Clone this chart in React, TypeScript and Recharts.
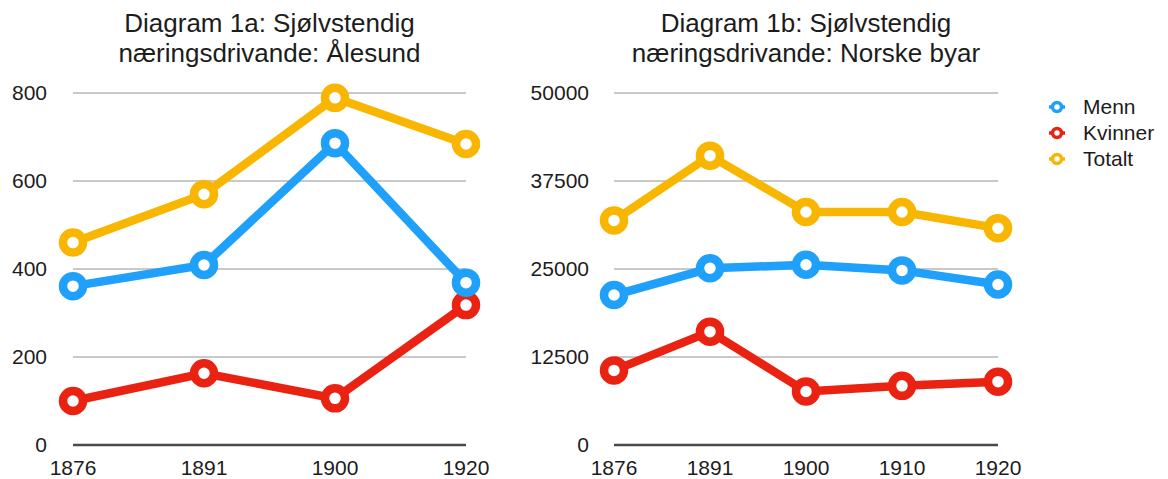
import { LineChart, Line, XAxis, YAxis, CartesianGrid } from 'recharts'

const years1 = ['1876', '1891', '1900', '1920']
const menn1 = [361, 409, 686, 369]
const kvinner1 = [100, 163, 106, 318]
const totalt1 = [460, 570, 789, 684]
const ticks1 = [0, 200, 400, 600, 800]

const years2 = ['1876', '1891', '1900', '1910', '1920']
const menn2 = [21300, 25100, 25600, 24800, 22800]
const kvinner2 = [10600, 16100, 7600, 8400, 9000]
const totalt2 = [31900, 41100, 33100, 33100, 30800]
const ticks2 = [0, 12500, 25000, 37500, 50000]

const FONT = '"Liberation Sans", Arial, Helvetica, sans-serif'
const TEXT = '#1c1c1c'

const SERIES = [
  { key: 'Kvinner', color: '#ea2212' },
  { key: 'Menn', color: '#1ea0fb' },
  { key: 'Totalt', color: '#f8b600' },
]
const LEGEND = ['Menn', 'Kvinner', 'Totalt']

function build(years: string[], menn: number[], kvinner: number[], totalt: number[]) {
  return years.map((year, i) => ({ year, Menn: menn[i], Kvinner: kvinner[i], Totalt: totalt[i] }))
}

const data1 = build(years1, menn1, kvinner1, totalt1)
const data2 = build(years2, menn2, kvinner2, totalt2)

interface PanelProps {
  data: ReturnType<typeof build>
  ticks: number[]
  yWidth: number
  labelGap: number
  right: number
}

function Panel({ data, ticks, yWidth, labelGap, right }: PanelProps) {
  const tick = { fill: TEXT, fontSize: 21, fontFamily: FONT }
  return (
    <LineChart width={520} height={479} data={data} margin={{ top: 93, right, bottom: 0, left: 0 }}>
      <CartesianGrid vertical={false} stroke="#c9c9c9" strokeWidth={2} />
      <XAxis
        dataKey="year"
        height={34}
        tickLine={false}
        tickSize={0}
        tickMargin={15}
        axisLine={{ stroke: '#4a4a4a', strokeWidth: 2.5 }}
        tick={tick}
      />
      <YAxis
        type="number"
        domain={[ticks[0], ticks[ticks.length - 1]]}
        ticks={ticks}
        width={yWidth}
        axisLine={false}
        tickLine={false}
        tickSize={0}
        tickMargin={labelGap}
        tick={tick}
      />
      {SERIES.map(s => (
        <Line
          key={s.key}
          dataKey={s.key}
          stroke={s.color}
          strokeWidth={8.5}
          dot={{ r: 10, strokeWidth: 8.5, fill: '#fff', stroke: s.color }}
          activeDot={false}
          isAnimationActive={false}
        />
      ))}
    </LineChart>
  )
}

function Title({ center, lines }: { center: number; lines: string[] }) {
  return (
    <div
      style={{
        position: 'absolute',
        left: center - 250,
        top: 8,
        width: 500,
        textAlign: 'center',
        fontFamily: FONT,
        fontSize: 26,
        lineHeight: '30px',
        color: TEXT,
      }}
    >
      {lines.map(l => (
        <div key={l}>{l}</div>
      ))}
    </div>
  )
}

export default function App() {
  return (
    <div style={{ position: 'absolute', left: 0, top: 0, width: 1168, height: 479, background: '#fff' }}>
      <div style={{ position: 'absolute', left: 0, top: 0 }}>
        <Panel data={data1} ticks={ticks1} yWidth={73} labelGap={26} right={54} />
      </div>
      <div style={{ position: 'absolute', left: 520, top: 0 }}>
        <Panel data={data2} ticks={ticks2} yWidth={94} labelGap={25} right={42} />
      </div>
      <Title center={269.5} lines={['Diagram 1a: Sjølvstendig', 'næringsdrivande: Ålesund']} />
      <Title center={806} lines={['Diagram 1b: Sjølvstendig', 'næringsdrivande: Norske byar']} />
      <div style={{ position: 'absolute', left: 1045, top: 94, fontFamily: FONT, fontSize: 21, color: TEXT }}>
        {LEGEND.map(name => {
          const color = SERIES.find(s => s.key === name)!.color
          return (
            <div key={name} style={{ display: 'flex', alignItems: 'center', height: 26, lineHeight: '26px' }}>
              <svg width={24} height={20} style={{ marginRight: 14 }}>
                <line x1={4} y1={10} x2={20} y2={10} stroke={color} strokeWidth={3.5} />
                <circle cx={12} cy={10} r={4.5} fill="#fff" stroke={color} strokeWidth={3.5} />
              </svg>
              <span>{name}</span>
            </div>
          )
        })}
      </div>
    </div>
  )
}
